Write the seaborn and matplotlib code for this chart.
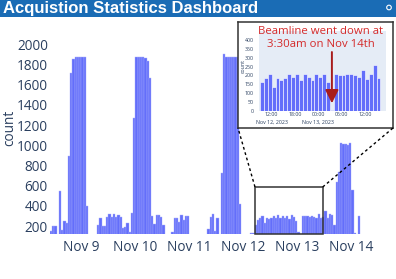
import numpy as np
import pandas as pd
import seaborn as sns
import matplotlib
matplotlib.use('Agg')
import matplotlib.pyplot as plt
import matplotlib.dates as mdates
from matplotlib.patches import Rectangle, Ellipse
from matplotlib.lines import Line2D

# hourly acquisition counts, main chart (first bin Nov 8 10:00)
main_start = '2023-11-08 10:00'
main_counts = [150, 200, 200, 0, 550, 160, 252, 233, 893, 1718, 1850, 1870, 1870, 1870, 1870, 1870, 398,
               0, 0, 0, 0,
               210, 282, 203, 203, 290, 316, 290, 316, 290, 305, 290, 177, 193, 227, 140, 332,
               1266, 1870, 1870, 1870, 1870, 1860, 1836, 1662,
               300, 220, 305, 305, 292, 210,
               0, 0, 0,
               145, 282, 282, 237, 309, 260, 302, 302,
               0, 0, 0, 0, 0, 0, 0, 0,
               167, 292, 319, 150, 280, 0, 728, 1900, 1870, 1870, 1870, 1870, 1870, 1870, 420,
               0, 0, 0, 0,
               130, 135,
               210, 260, 276, 299, 233, 276, 269, 282, 302, 276, 309, 276, 299, 276, 299, 269, 309, 290, 252,
               140, 125,
               302, 299, 299, 290, 302, 290, 276, 319, 276, 290,
               348, 276, 316, 309, 210, 638, 737, 1019, 1009, 1009, 1002, 1019, 556, 130, 0, 300]

# zoomed inset (first bin Nov 12 09:00)
inset_start = '2023-11-12 09:00'
inset_counts = [165, 183, 207, 135, 185, 173, 186, 210, 188, 210, 176, 209, 192, 176, 210, 190, 208, 160,
                5,
                210, 200, 200, 210, 206, 200, 191, 228, 182, 206, 256, 187]

day_ticks = ['2023-11-09', '2023-11-10', '2023-11-11', '2023-11-12', '2023-11-13', '2023-11-14']
day_labels = ['Nov 9', 'Nov 10', 'Nov 11', 'Nov 12', 'Nov 13', 'Nov 14']
inset_ticks = ['2023-11-12 12:00', '2023-11-12 18:00', '2023-11-13 00:00', '2023-11-13 06:00', '2023-11-13 12:00']
inset_labels = ['12:00\nNov 12, 2023', '18:00', '00:00\nNov 13, 2023', '06:00', '12:00']
title = 'Acquistion Statistics Dashboard'
note = 'Beamline went down at\n3:30am on Nov 14th'

sns.set_theme(style='white')
plt.rcParams['font.family'] = ['Open Sans', 'DejaVu Sans']

BAR = '#636efa'
INK = '#2a3f5f'
W, H = 396, 279


def hourly(start, counts):
    # one row per hour, x at the middle of the hour (as date number)
    t = mdates.date2num(pd.date_range(start, periods=len(counts), freq='h')) + 0.5 / 24
    return pd.DataFrame({'t': t, 'count': counts})


fig = plt.figure(figsize=(W / 100, H / 100), dpi=100)

# main chart
ax = fig.add_axes([50 / W, 45 / H, 335 / W, 200 / H])
df = hourly(main_start, main_counts)
x0 = df['t'].iloc[0] - 0.5 / 24
sns.histplot(data=df, x='t', weights='count', binwidth=1 / 24, binrange=(x0, x0 + len(df) / 24),
             ax=ax, color=BAR, alpha=1, edgecolor='#a9aefc', linewidth=0.3)
ax.set_xlim(x0, x0 + 148.9 / 24)
ax.set_ylim(121, 2101)
ax.set_yticks(range(200, 2001, 200))
ax.set_xticks(mdates.date2num(pd.to_datetime(day_ticks)))
ax.set_xticklabels(day_labels)
ax.tick_params(length=0, labelsize=9.8, labelcolor=INK)
ax.tick_params(axis='x', pad=4)
ax.tick_params(axis='y', pad=1.5)
ax.set_xlabel('')
ax.set_ylabel('')
ax.grid(False)
sns.despine(ax=ax, left=True, bottom=True)
fig.text(10 / W, 1 - 128 / H, 'count', rotation=90, ha='center', va='center', fontsize=9.8, color=INK)

# zoom box on the main chart
bx0 = x0 + 91.1 / 24
bx1 = x0 + 121.2 / 24
ax.add_patch(Rectangle((bx0, 121), bx1 - bx0, 465, fill=False, ec='#333333', lw=1.1,
                       clip_on=False, zorder=5))

# inset frame
ax_box = fig.add_axes([238 / W, 1 - 128 / H, 155 / W, 106 / H])
ax_box.set_facecolor('white')
ax_box.set_xticks([])
ax_box.set_yticks([])
for s in ax_box.spines.values():
    s.set_visible(True)
    s.set_color('#333333')
    s.set_linewidth(1.1)

# inset chart
ax_in = fig.add_axes([259 / W, 1 - 110.7 / H, 127 / W, 79.7 / H])
ax_in.set_facecolor('#e5ecf6')
dfi = hourly(inset_start, inset_counts)
i0 = dfi['t'].iloc[0] - 0.5 / 24
sns.histplot(data=dfi, x='t', weights='count', binwidth=1 / 24, binrange=(i0, i0 + len(dfi) / 24),
             ax=ax_in, color=BAR, alpha=1, edgecolor='white', linewidth=0.4)
noon = mdates.date2num(pd.Timestamp('2023-11-12 12:00'))
ax_in.set_xlim(noon - 3.27 / 24, noon + 29.43 / 24)
ax_in.set_ylim(0, 451)
ax_in.set_yticks(range(0, 401, 50))
ax_in.set_xticks(mdates.date2num(pd.to_datetime(inset_ticks)))
ax_in.set_xticklabels(inset_labels, linespacing=1.7)
ax_in.tick_params(length=0, labelsize=3.8, labelcolor=INK)
ax_in.tick_params(axis='x', pad=1)
ax_in.tick_params(axis='y', pad=3.6)
ax_in.set_xlabel('')
ax_in.set_ylabel('')
ax_in.grid(False)
for s in ax_in.spines.values():
    s.set_visible(False)
fig.text(243 / W, 1 - 66 / H, 'count', rotation=90, ha='center', va='center', fontsize=3.8, color=INK)

# arrow to the outage
gap_x = dfi['t'].iloc[18]
ax_in.annotate('', xy=(gap_x, 42), xytext=(gap_x, 332), annotation_clip=False,
               arrowprops=dict(arrowstyle='-|>', color='#a81c1c', lw=1.4, mutation_scale=20,
                               shrinkA=0, shrinkB=0))
fig.text(320.5 / W, 1 - 38 / H, note, ha='center', va='center', fontsize=8.2,
         color='#d42a2a', linespacing=1.3)

# dashed connectors
fig.add_artist(Line2D([255 / W, 238 / W], [1 - 187 / H, 1 - 128 / H], transform=fig.transFigure,
                      color='black', lw=1, ls=(0, (2, 2))))
fig.add_artist(Line2D([322.7 / W, 393 / W], [1 - 187 / H, 1 - 128 / H], transform=fig.transFigure,
                      color='black', lw=1, ls=(0, (2, 2))))

# title banner
fig.add_artist(Rectangle((0, 1 - 16.5 / H), 1, 16.5 / H, transform=fig.transFigure,
                         color='#1a6cb5', lw=0))
fig.text(3 / W, 1 - 8.5 / H, title, color='white', fontweight='bold', fontsize=12,
         family=['Liberation Sans', 'DejaVu Sans'], ha='left', va='center')
fig.add_artist(Ellipse((389 / W, 1 - 7.5 / H), 4.6 / W, 4.6 / H, transform=fig.transFigure,
                       fill=False, ec='white', lw=0.8))

fig.savefig('out.png', dpi=100)
